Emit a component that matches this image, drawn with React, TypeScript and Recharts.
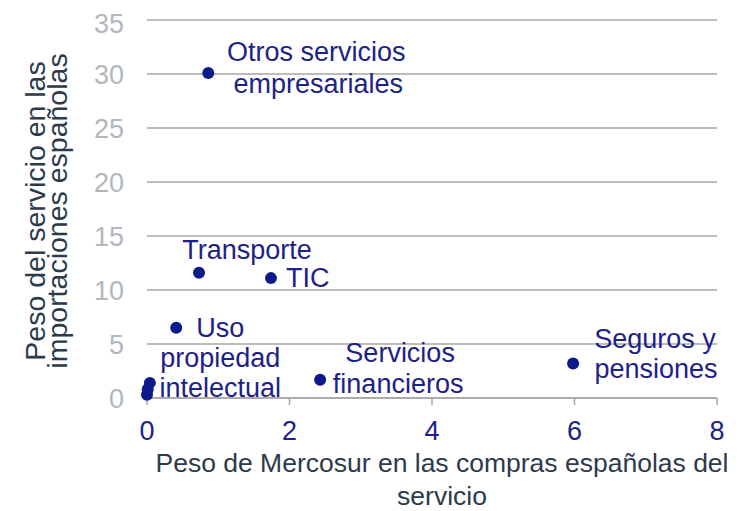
import { ScatterChart, Scatter, XAxis, YAxis, CartesianGrid } from 'recharts';

// one entry per service; the last three sit near the origin and carry no label
const services = [
  'Otros servicios empresariales',
  'Transporte',
  'TIC',
  'Uso propiedad intelectual',
  'Servicios financieros',
  'Seguros y pensiones',
  'a',
  'b',
  'c'
];
const mercosurShare = [0.86, 0.73, 1.74, 0.41, 2.43, 5.98, 0.04, 0.01, 0.0];
const importShare = [30.1, 11.6, 11.1, 6.5, 1.7, 3.2, 1.4, 0.8, 0.3];
const labelLines = [
  ['Otros servicios', 'empresariales'],
  ['Transporte'],
  ['TIC'],
  ['Uso', 'propiedad', 'intelectual'],
  ['Servicios', 'financieros'],
  ['Seguros y', 'pensiones'],
  [],
  [],
  []
];
const xTicks = [0, 2, 4, 6, 8];
const yTicks = [0, 5, 10, 15, 20, 25, 30, 35];
const xTitle = ['Peso de Mercosur en las compras españolas del', 'servicio'];
const yTitle = ['Peso del servicio en las', 'importaciones españolas'];

// where each label line goes, relative to its dot: [dx, dy(baseline), anchor]
type Off = [number, number, 'start' | 'middle'];
const labelOffsets: Off[][] = [
  [[108, -12, 'middle'], [110, 20, 'middle']],
  [[48, -14, 'middle']],
  [[15, 9, 'start']],
  [[20, 9, 'start'], [44, 39, 'middle'], [44, 69, 'middle']],
  [[80, -18, 'middle'], [78, 13, 'middle']],
  [[82, -15, 'middle'], [83, 15, 'middle']],
  [],
  [],
  []
];

const NAVY = '#1d2287';
const DOT = '#0d1a8a';
const GRID = '#a6a6a6';
const TITLE = '#2c3a4c';
const YTICK = '#b2b6bd';

const points = services.map((name, i) => ({
  name,
  x: mercosurShare[i],
  y: importShare[i],
  lines: labelLines[i],
  offsets: labelOffsets[i]
}));

function PointShape(props: any) {
  const { cx, cy, payload } = props;
  return (
    <g>
      <circle cx={cx} cy={cy} r={6} fill={DOT} />
      {payload.lines.map((t: string, j: number) => {
        const [dx, dy, anchor] = payload.offsets[j];
        return (
          <text key={j} x={cx + dx} y={cy + dy} textAnchor={anchor} fill={NAVY} fontSize={27}>
            {t}
          </text>
        );
      })}
    </g>
  );
}

function XTitle(props: any) {
  const { viewBox } = props;
  const cx = viewBox.x + viewBox.width / 2 + 10;
  return (
    <g>
      {xTitle.map((t, i) => (
        <text key={i} x={cx} y={viewBox.y + 74 + i * 33} textAnchor="middle" fill={TITLE} fontSize={26.5}>
          {t}
        </text>
      ))}
    </g>
  );
}

function YTitle(props: any) {
  const { viewBox } = props;
  const cy = viewBox.y + viewBox.height / 2 + 2;
  return (
    <g>
      {yTitle.map((t, i) => {
        const x = 37 + i * 22;
        return (
          <text key={i} x={x} y={cy} transform={`rotate(-90, ${x}, ${cy})`} textAnchor="middle" fill={TITLE} fontSize={28.5}>
            {t}
          </text>
        );
      })}
    </g>
  );
}

export default function App() {
  return (
    <div style={{ fontFamily: '"Liberation Sans", Arial, sans-serif' }}>
      <ScatterChart width={731} height={503} margin={{ top: 12, right: 22, left: 0, bottom: 0 }}>
        <CartesianGrid vertical={false} stroke={GRID} strokeWidth={1.5} />
        <XAxis
          type="number"
          dataKey="x"
          domain={[0, 8]}
          ticks={xTicks}
          height={113}
          stroke={GRID}
          strokeWidth={1.5}
          tickSize={7}
          tickMargin={16}
          tick={{ fill: NAVY, fontSize: 27 }}
          label={<XTitle />}
        />
        <YAxis
          type="number"
          dataKey="y"
          domain={[0, 35]}
          ticks={yTicks}
          width={139}
          axisLine={false}
          tickLine={false}
          tickMargin={17}
          tick={{ fill: YTICK, fontSize: 27 }}
          label={<YTitle />}
        />
        <Scatter data={points} shape={<PointShape />} isAnimationActive={false} />
      </ScatterChart>
    </div>
  );
}
